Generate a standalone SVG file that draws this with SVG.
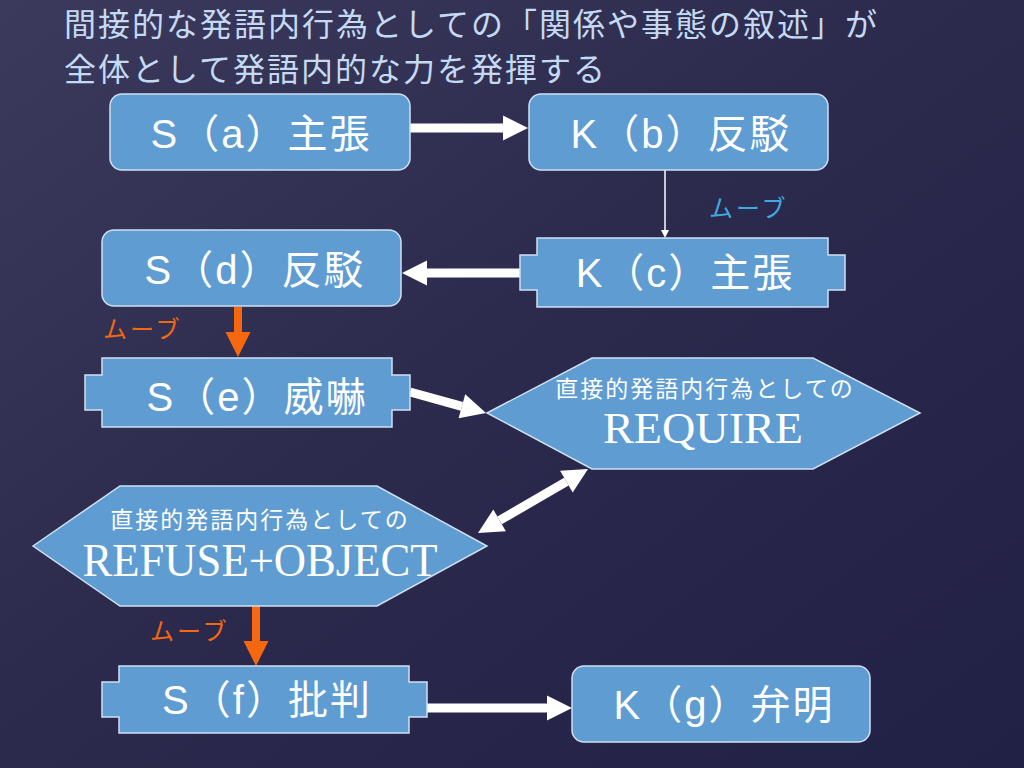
<svg xmlns="http://www.w3.org/2000/svg" width="1024" height="768" viewBox="0 0 1024 768">
<defs>
  <linearGradient id="bg" x1="0" y1="0" x2="1" y2="1">
    <stop offset="0" stop-color="#3c3a5c"/>
    <stop offset="0.45" stop-color="#2c2b4e"/>
    <stop offset="1" stop-color="#212045"/>
  </linearGradient>
  <marker id="hw" markerUnits="userSpaceOnUse" markerWidth="26" markerHeight="26" refX="0" refY="12.5" orient="auto-start-reverse" overflow="visible">
    <path d="M0,0 L25,12.5 L0,25 Z" fill="#ffffff"/>
  </marker>
  <marker id="ho" markerUnits="userSpaceOnUse" markerWidth="26" markerHeight="26" refX="0" refY="12.5" orient="auto" overflow="visible">
    <path d="M0,0 L25,12.5 L0,25 Z" fill="#f5680f"/>
  </marker>
  <marker id="hs" markerUnits="userSpaceOnUse" markerWidth="9" markerHeight="9" refX="0" refY="4" orient="auto" overflow="visible">
    <path d="M0,0 L8,4 L0,8 Z" fill="#ffffff"/>
  </marker>
</defs>
<style>
  .node { fill: #5e9cd2; stroke: #cfe0f2; stroke-width: 1.5; }
  .lbl { font-family: "Liberation Sans", "Noto Sans CJK JP", sans-serif; font-size: 40px; letter-spacing: 2px; fill: #ffffff; text-anchor: middle; }
  .small { font-family: "Noto Sans CJK JP", sans-serif; font-size: 23px; letter-spacing: 2px; fill: #ffffff; text-anchor: middle; }
  .big { font-family: "Liberation Serif", serif; fill: #ffffff; text-anchor: middle; }
  .title { font-family: "Noto Sans CJK JP", sans-serif; font-size: 32px; letter-spacing: 2px; fill: #c4daf2; }
  .move { font-family: "Noto Sans CJK JP", sans-serif; font-size: 24px; letter-spacing: 3px; }
  .w { stroke: #ffffff; stroke-width: 9; fill: none; }
  .o { stroke: #f5680f; stroke-width: 8; fill: none; }
</style>
<rect width="1024" height="768" fill="url(#bg)"/>

<g id="title">
  <text class="title" x="64" y="36">間接的な発語内行為としての「関係や事態の叙述」が</text>
  <text class="title" x="64" y="81">全体として発語内的な力を発揮する</text>
</g>

<g id="connectors">
  <line class="w" x1="410" y1="128" x2="503" y2="128" marker-end="url(#hw)"/>
  <line x1="665" y1="170" x2="665" y2="230" stroke="#ffffff" stroke-width="1.5" marker-end="url(#hs)"/>
  <line class="w" x1="520" y1="273" x2="427" y2="273" marker-end="url(#hw)"/>
  <line class="o" x1="238" y1="307" x2="238" y2="332" marker-end="url(#ho)"/>
  <line class="w" x1="410" y1="392" x2="461.9" y2="406.3" marker-end="url(#hw)"/>
  <line class="w" x1="499.6" y1="520.4" x2="566.4" y2="481.6" marker-start="url(#hw)" marker-end="url(#hw)"/>
  <line class="o" x1="256" y1="606" x2="256" y2="641" marker-end="url(#ho)"/>
  <line class="w" x1="427" y1="708" x2="547" y2="708" marker-end="url(#hw)"/>
  <text class="move" x="709" y="217" fill="#3fa9e2">ムーブ</text>
  <text class="move" x="103" y="338" fill="#f5680f">ムーブ</text>
  <text class="move" x="150" y="640" fill="#f5680f">ムーブ</text>
</g>

<g id="node-a">
  <rect class="node" x="110" y="94" width="300" height="76" rx="12"/>
  <text class="lbl" x="261" y="148">S（a）主張</text>
</g>
<g id="node-b">
  <rect class="node" x="529" y="94" width="299" height="76" rx="12"/>
  <text class="lbl" x="681" y="148">K（b）反駁</text>
</g>
<g id="node-c">
  <path class="node" d="M537,238 H828 V255 H845 V290 H828 V307 H537 V290 H520 V255 H537 Z"/>
  <text class="lbl" x="685" y="287">K（c）主張</text>
</g>
<g id="node-d">
  <rect class="node" x="102" y="230" width="299" height="76" rx="12"/>
  <text class="lbl" x="255" y="284">S（d）反駁</text>
</g>
<g id="node-e">
  <path class="node" d="M102,358 H392 V375 H410 V410 H392 V427 H102 V410 H85 V375 H102 Z"/>
  <text class="lbl" x="257" y="411">S（e）威嚇</text>
</g>
<g id="node-require">
  <polygon class="node" points="487,413 592,358 813,358 920,413 813,469 592,469"/>
  <text class="small" x="705" y="397">直接的発語内行為としての</text>
  <text class="big" x="703" y="443" font-size="44" textLength="200" lengthAdjust="spacingAndGlyphs">REQUIRE</text>
</g>
<g id="node-refuse">
  <polygon class="node" points="33,546 120,486 377,486 487,546 377,606 120,606"/>
  <text class="small" x="260" y="528">直接的発語内行為としての</text>
  <text class="big" x="260" y="576" font-size="46" textLength="355" lengthAdjust="spacingAndGlyphs">REFUSE+OBJECT</text>
</g>
<g id="node-f">
  <path class="node" d="M119,666 H409 V682 H427 V717 H409 V733 H119 V717 H102 V682 H119 Z"/>
  <text class="lbl" x="267" y="714">S（f）批判</text>
</g>
<g id="node-g">
  <rect class="node" x="572" y="666" width="298" height="76" rx="12"/>
  <text class="lbl" x="724" y="719">K（g）弁明</text>
</g>
</svg>
